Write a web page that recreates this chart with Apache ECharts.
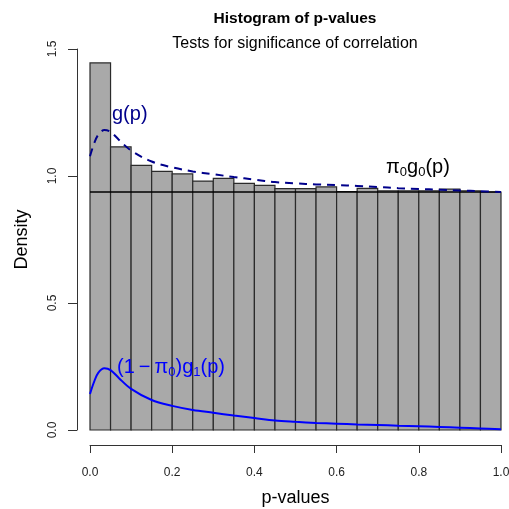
<!DOCTYPE html>
<html>
<head>
<meta charset="utf-8">
<script src="https://cdn.jsdelivr.net/npm/echarts@6/dist/echarts.min.js"></script>
<style>html,body{margin:0;padding:0;background:#fff}#c{width:509px;height:509px}</style>
</head>
<body>
<div id="c"></div>
<script>
// Histogram bins (width 0.05) and densities
const binStarts = [0.00,0.05,0.10,0.15,0.20,0.25,0.30,0.35,0.40,0.45,0.50,0.55,0.60,0.65,0.70,0.75,0.80,0.85,0.90,0.95];
const binWidth = 0.05;
const densities = [1.445,1.115,1.042,1.018,1.008,0.980,0.991,0.971,0.963,0.950,0.950,0.957,0.939,0.951,0.942,0.942,0.942,0.948,0.942,0.937];
// Estimated null proportion pi0
const pi0 = 0.937;
// Curves
const pGrid =   [0,0.01,0.02,0.035,0.05,0.07,0.10,0.15,0.20,0.25,0.30,0.35,0.40,0.45,0.50,0.55,0.60,0.65,0.70,0.75,0.80,0.85,0.90,0.95,1.00];
const gValues = [1.078,1.128,1.162,1.181,1.174,1.143,1.100,1.057,1.034,1.018,1.007,0.996,0.986,0.976,0.971,0.967,0.964,0.961,0.957,0.952,0.949,0.946,0.943,0.940,0.937];
const altValues = [0.142,0.190,0.225,0.243,0.236,0.205,0.162,0.118,0.095,0.079,0.068,0.057,0.047,0.037,0.032,0.028,0.025,0.022,0.020,0.017,0.015,0.012,0.009,0.006,0.003];
const xTicks = [0,0.2,0.4,0.6,0.8,1.0];
const yTicks = [0,0.5,1.0,1.5];

const barData = binStarts.map((s,i)=>[s, s+binWidth, densities[i]]);
const gData = pGrid.map((p,i)=>[p,gValues[i]]);
const altData = pGrid.map((p,i)=>[p,altValues[i]]);

const chart = echarts.init(document.getElementById('c'));
const font = 'Liberation Sans, Arial, sans-serif';
chart.setOption({
  animation:false,
  backgroundColor:'#fff',
  title:[
    {text:'Histogram of p-values', left:290, top:6, textAlign:'center',
     textStyle:{fontFamily:font,fontSize:15.5,fontWeight:'bold',color:'#000'}},
    {text:'Tests for significance of correlation', left:290, top:31, textAlign:'center',
     textStyle:{fontFamily:font,fontSize:16,fontWeight:'normal',color:'#000'}}
  ],
  grid:{left:90,right:8,top:49,bottom:79,containLabel:false,outerBoundsMode:'none'},
  xAxis:{type:'value',min:0,max:1,interval:0.2,offset:15,
    name:'p-values',nameLocation:'middle',nameGap:44,
    nameTextStyle:{fontFamily:font,fontSize:18,color:'#000'},
    axisLine:{show:true,onZero:false,lineStyle:{color:'#333',width:1}},
    axisTick:{show:true,length:8,lineStyle:{color:'#333'}},
    axisLabel:{fontFamily:font,fontSize:12,color:'#222',margin:22,
      formatter:v=>v.toFixed(1)},
    splitLine:{show:false}},
  yAxis:{type:'value',min:0,max:1.5,interval:0.5,offset:13,
    name:'Density',nameLocation:'middle',nameGap:46,nameRotate:90,
    nameTextStyle:{fontFamily:font,fontSize:18,color:'#000'},
    axisLine:{show:true,onZero:false,lineStyle:{color:'#333',width:1}},
    axisTick:{show:true,length:9,lineStyle:{color:'#333'}},
    axisLabel:{fontFamily:font,fontSize:12,color:'#222',margin:18,rotate:90,
      formatter:v=>v.toFixed(1)},
    splitLine:{show:false}},
  series:[
    {type:'custom',name:'hist',data:barData,z:1,
     renderItem:(params,api)=>{
       const tl = api.coord([api.value(0),api.value(2)]);
       const br = api.coord([api.value(1),0]);
       return {type:'rect',shape:{x:tl[0],y:tl[1],width:br[0]-tl[0],height:br[1]-tl[1]},
         style:{fill:'#a9a9a9',stroke:'#2b2b2b',lineWidth:1.2}};
     }},
    {type:'line',name:'pi0',data:[[0,pi0],[1,pi0]],z:3,symbol:'none',
     lineStyle:{color:'#000',width:1.6}},
    {type:'line',name:'g',data:gData,z:4,symbol:'none',smooth:0.35,
     lineStyle:{color:'#00008b',width:2,type:[8,6]}},
    {type:'line',name:'alt',data:altData,z:4,symbol:'none',smooth:0.35,
     lineStyle:{color:'#0000ff',width:2}}
  ],
  graphic:[
    {type:'text',left:112,top:104,z:10,style:{text:'g(p)',fontFamily:font,fontSize:20,fill:'#00008b'}},
    {type:'text',left:386,top:157,z:10,style:{
      text:'{a|π}{s|0}{a|g}{s|0}{a|(p)}',fontFamily:font,
      rich:{a:{fontFamily:font,fontSize:20,fill:'#000',lineHeight:24},
            s:{fontFamily:font,fontSize:13,fill:'#000',verticalAlign:'bottom',lineHeight:24}}}},
    {type:'text',left:117,top:357,z:10,style:{
      text:'{a|(1\u2009\u2212\u2009π}{s|0}{a|)g}{s|1}{a|(p)}',fontFamily:font,
      rich:{a:{fontFamily:font,fontSize:20,fill:'#0000ff',lineHeight:24},
            s:{fontFamily:font,fontSize:13,fill:'#0000ff',verticalAlign:'bottom',lineHeight:24}}}}
  ]
});
</script>
</body>
</html>
